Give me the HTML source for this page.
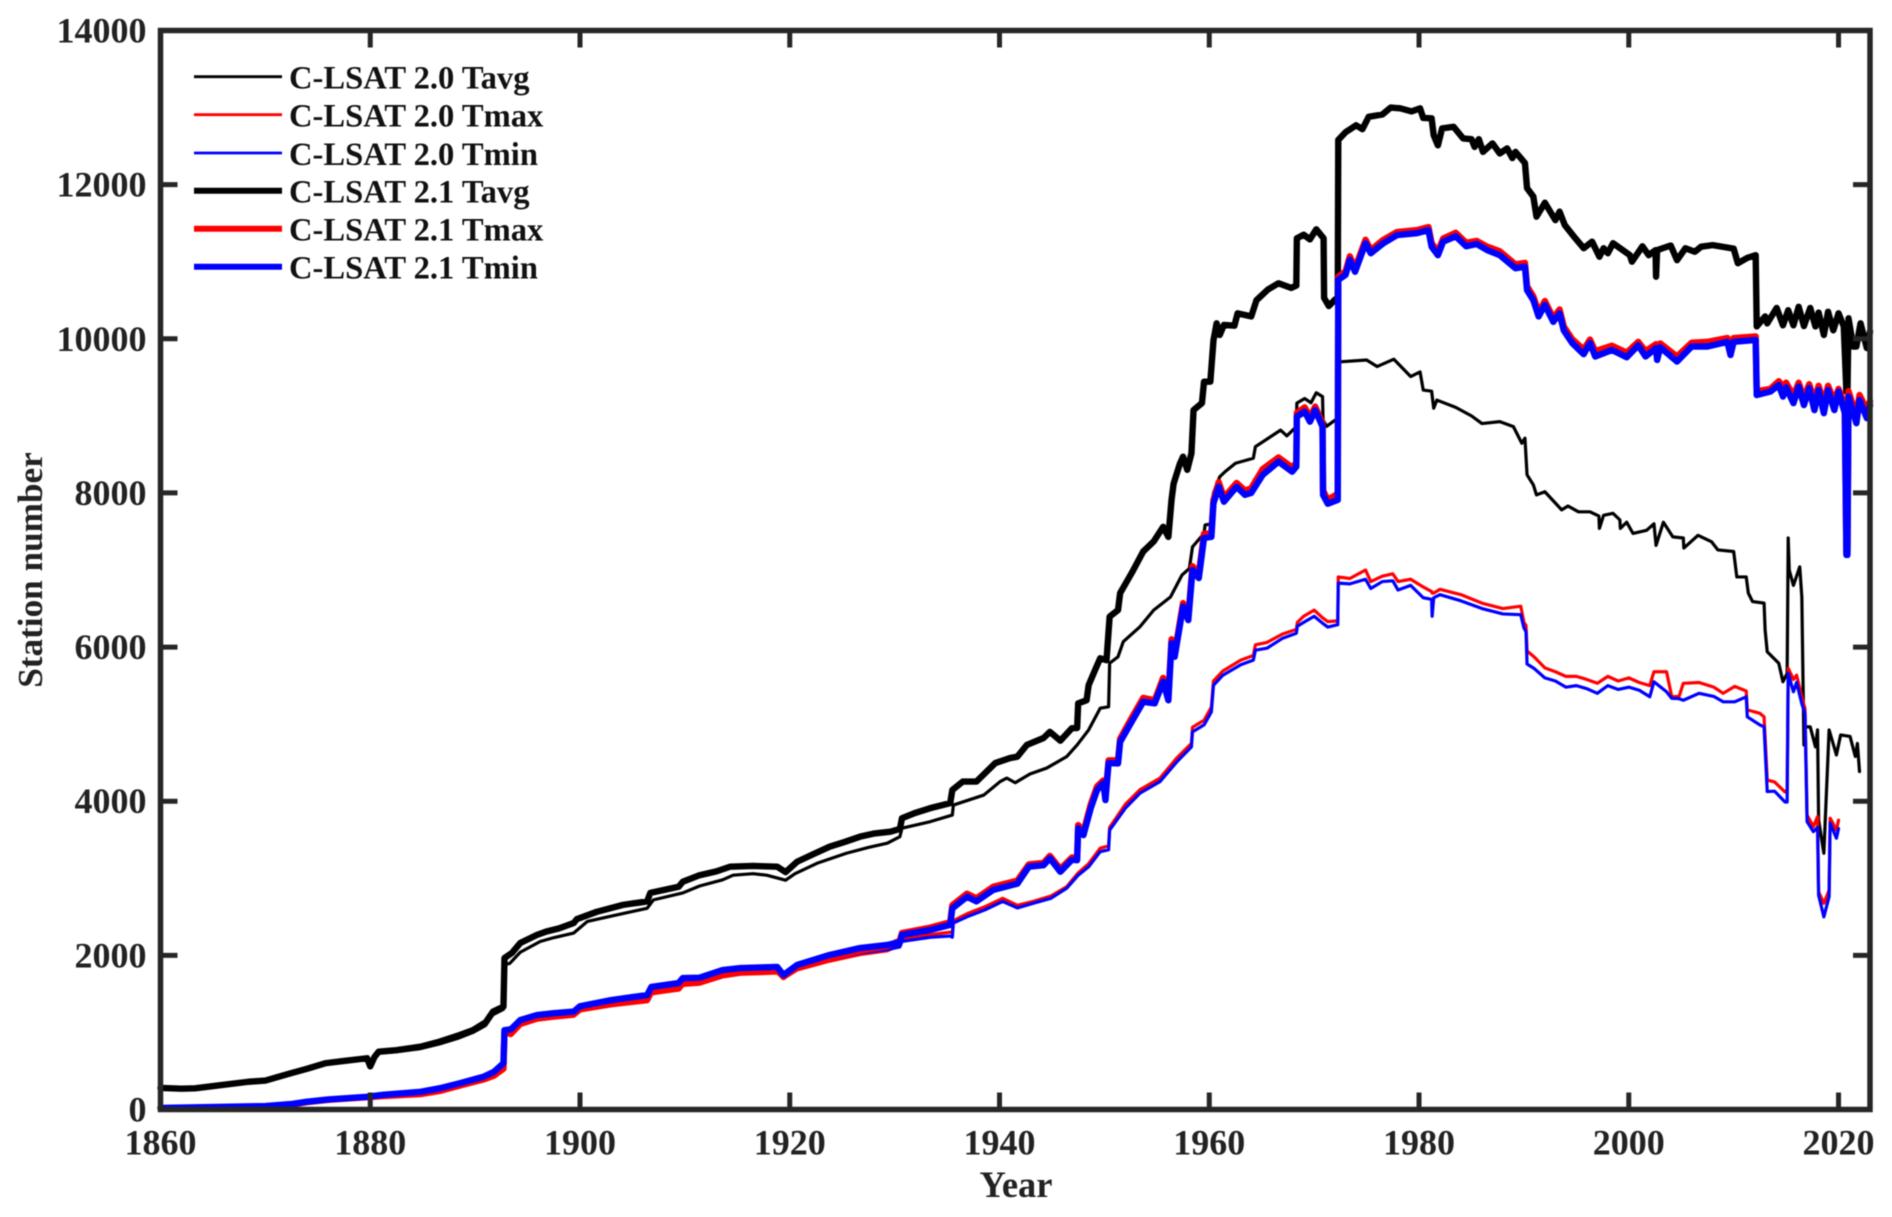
<!DOCTYPE html>
<html lang="en">
<head>
<meta charset="utf-8">
<title>C-LSAT station number</title>
<style>
html,body{margin:0;padding:0;background:#fff;width:1892px;height:1217px;overflow:hidden}
svg{display:block;filter:blur(0.45px)}
text{font-family:"Liberation Serif",serif;font-weight:bold}
</style>
</head>
<body>
<svg id="chart" xmlns="http://www.w3.org/2000/svg" width="1892" height="1217" viewBox="0 0 1892 1217">
  <rect x="0" y="0" width="1892" height="1217" fill="#fff"/>
  <g id="series-layer"></g>
  <rect x="160.5" y="30.5" width="1709.5" height="1079" fill="none" stroke="#262626" stroke-width="5.5"/>
  <g id="axis-layer"></g>
  <text x="1016" y="1197" font-size="36.5" text-anchor="middle" fill="#222">Year</text>
  <text transform="translate(42 570) rotate(-90)" font-size="35.2" text-anchor="middle" fill="#222">Station number</text>
  <g>
    <g>
      <line x1="194" x2="282" y1="76.7" y2="76.7" stroke="#000" stroke-width="2.8"/>
      <text x="289" y="88.7" font-size="32.6" fill="#111">C-LSAT 2.0 Tavg</text>
    </g>
    <g>
      <line x1="194" x2="282" y1="114.7" y2="114.7" stroke="#f00" stroke-width="2.8"/>
      <text x="289" y="126.7" font-size="32.6" fill="#111">C-LSAT 2.0 Tmax</text>
    </g>
    <g>
      <line x1="194" x2="282" y1="153" y2="153" stroke="#00f" stroke-width="2.8"/>
      <text x="289" y="165" font-size="32.6" fill="#111">C-LSAT 2.0 Tmin</text>
    </g>
    <g>
      <line x1="194" x2="282" y1="190.7" y2="190.7" stroke="#000" stroke-width="6"/>
      <text x="289" y="202.7" font-size="32.6" fill="#111">C-LSAT 2.1 Tavg</text>
    </g>
    <g>
      <line x1="194" x2="282" y1="228.7" y2="228.7" stroke="#f00" stroke-width="6"/>
      <text x="289" y="240.7" font-size="32.6" fill="#111">C-LSAT 2.1 Tmax</text>
    </g>
    <g>
      <line x1="194" x2="282" y1="266.7" y2="266.7" stroke="#00f" stroke-width="6"/>
      <text x="289" y="278.7" font-size="32.6" fill="#111">C-LSAT 2.1 Tmin</text>
    </g>
  </g>
</svg>
<script>
const xTickLabels = [1860,1880,1900,1920,1940,1960,1980,2000,2020];
const yTickLabels = [0,2000,4000,6000,8000,10000,12000,14000];

const yearsTavg20 = [
1860,1863.3,1866,1868.4,1870,1872.4,1874,1875.7,1877.5,1879.7,
1880,1880.4,1880.8,1882.5,1884.8,1886.6,1888.5,1889.8,1891,1891.7,
1892.7,1892.8,1893.3,1894.3,1896.2,1897.5,1899.4,1900.7,1903,1906.4,
1907,1909.8,1911.4,1913.6,1914.6,1916.5,1917.8,1919.6,1920.5,1922.6,
1925.4,1927.5,1929.3,1930.5,1930.7,1933.4,1935.5,1935.6,1938.5,1940.06,
1940.7,1941.5,1942.9,1944.5,1946.4,1947.4,1948.5,1949.6,1950.4,1950.5,
1951.3,1951.8,1953.4,1954.7,1956.3,1957.4,1958.1,1958.4,1959.5,1959.6,
1960.3,1960.4,1961,1961.5,1962.5,1964.2,1964.4,1966.8,1967.4,1968.3,
1968.35,1969.1,1969.7,1970.2,1970.8,1970.85,1971.2,1972,1972.25,1972.3,
1975,1976,1977.6,1979.2,1980.1,1980.4,1981.2,1981.4,1981.7,1983.5,
1985,1986,1987.7,1989,1989.8,1990.1,1990.3,1990.9,1991.2,1992,
1993.6,1994.2,1995.2,1996.3,1997.15,1997.2,1997.6,1998.5,1999.15,1999.2,
1999.8,2000.4,2001.7,2002.4,2002.6,2003.3,2004.2,2005.2,2005.25,2006.6,
2007.9,2008.5,2010,2010.3,2011.2,2011.4,2011.8,2012.9,2013,2013.2,
2014.3,2014.7,2015.1,2015.2,2015.3,2015.7,2016.3,2016.5,2016.7,2016.8,
2017.3,2017.8,2018,2018.1,2018.6,2019.1,2019.8,2020.2,2021.1,2021.6,
2021.8,2022];
const valuesTavg20 = [
275,270,310,350,365,460,520,585,620,650,
560,665,730,750,790,850,930,1000,1090,1230,
1300,1880,1895,2040,2180,2230,2290,2440,2510,2610,
2720,2810,2900,2980,3040,3060,3040,2975,3060,3195,
3325,3400,3455,3540,3650,3735,3820,3950,4080,4255,
4300,4240,4353,4430,4578,4730,4925,5207,5225,5790,
5875,6070,6265,6480,6650,6935,7020,7300,7475,7585,
7600,8000,8210,8275,8385,8450,8600,8815,8740,8860,
9165,9225,9170,9300,9250,8945,8865,8945,8950,9700,
9725,9640,9735,9510,9570,9335,9320,9100,9205,9110,
9000,8900,8925,8860,8645,8710,8235,8105,7975,8015,
7780,7830,7755,7755,7700,7540,7710,7735,7650,7540,
7620,7475,7515,7600,7320,7620,7430,7415,7285,7450,
7365,7260,7240,6910,6910,6700,6590,6570,6220,5940,
5790,5550,5660,7415,7000,6800,7040,6650,4730,4965,
4965,4705,4925,3755,3325,4925,4600,4860,4840,4580,
4750,4385];

const years20Temp = [
1860,1866,1870,1872.4,1873.9,1876,1879.7,1881.2,1884.8,1886.6,
1888.5,1890.8,1891.8,1892.7,1892.8,1893.4,1894.3,1895.9,1897.5,1899.4,
1900,1903,1906.4,1906.8,1909.4,1909.8,1911.4,1913.6,1915.3,1918.8,
1919.4,1920.7,1923.8,1926.7,1929.3,1930.5,1930.7,1933.4,1935.3,1935.5,
1935.6,1936.9,1938.6,1940.3,1941.7,1943.2,1944.9,1946.4,1947.5,1948.5,
1949.6,1950.4,1950.5,1952,1953.4,1955.3,1956.9,1958.3,1958.4,1959.5,
1960.2,1960.4,1961.3,1963,1964.2,1964.4,1965.5,1967,1968.3,1968.4,
1969,1970,1970.8,1971.3,1972.25,1972.3,1973.4,1974.9,1975.4,1976.5,
1977.5,1978,1979.2,1980.4,1981.2,1981.25,1981.4,1982,1984,1986,
1988,1989.7,1990,1990.2,1990.3,1991,1992,1993,1994,1995,
1996,1997,1998,1999,2000,2001,2002,2002.4,2003.6,2004.1,
2004.8,2005.2,2006.7,2008.1,2009,2010.1,2011.2,2011.3,2012.5,2012.9,
2013.2,2013.9,2014.9,2015.1,2015.2,2015.7,2016,2016.5,2016.8,2017,
2017.6,2018,2018.1,2018.6,2019.1,2019.2,2019.8,2020];
const valuesTmax20 = [
12,26,35,55,85,120,150,172,205,250,
305,380,440,530,980,990,1095,1160,1185,1210,
1280,1345,1400,1500,1550,1610,1625,1720,1755,1770,
1700,1810,1925,2010,2060,2130,2210,2270,2300,2300,
2450,2540,2630,2740,2650,2700,2770,2890,3070,3190,
3390,3420,3660,3960,4150,4300,4560,4750,4960,5050,
5220,5560,5690,5830,5890,6030,6060,6170,6230,6320,
6400,6480,6380,6330,6340,6910,6890,7000,6850,6920,
6950,6850,6880,6780,6720,6700,6700,6750,6680,6570,
6500,6530,6320,6280,5950,5870,5730,5680,5620,5620,
5580,5530,5620,5560,5600,5540,5500,5680,5680,5355,
5360,5530,5540,5480,5400,5490,5430,5185,5140,5095,
4275,4250,4120,4145,5725,5580,5635,5355,5200,3820,
3670,3800,2825,2675,2845,3780,3625,3755];
const valuesTmin20 = [
15,30,40,60,90,125,155,180,220,265,
325,405,470,570,1000,1010,1120,1190,1215,1235,
1300,1370,1430,1530,1580,1640,1650,1750,1780,1795,
1720,1830,1950,2030,2075,2110,2180,2235,2250,2235,
2420,2500,2590,2700,2615,2675,2740,2870,3040,3150,
3345,3370,3625,3910,4105,4255,4510,4705,4900,4990,
5160,5505,5635,5770,5830,5960,5985,6115,6180,6270,
6320,6400,6310,6260,6290,6830,6820,6880,6760,6850,
6860,6740,6800,6640,6620,6400,6640,6680,6600,6500,
6430,6420,6250,6200,5780,5720,5600,5560,5480,5500,
5460,5400,5500,5450,5480,5440,5355,5550,5420,5335,
5330,5310,5400,5360,5290,5290,5355,5095,4990,4965,
4125,4130,3990,3990,5660,5420,5540,5265,5140,3735,
3605,3660,2780,2500,2760,3715,3520,3645];

const yearsTavg21 = [
1860,1862,1863.3,1866,1868.4,1870,1872.4,1874,1875.7,1877.5,
1879.7,1880,1880.4,1880.8,1882.5,1884.8,1886.6,1888.5,1889.8,1891,
1891.7,1892.7,1892.8,1893.5,1894.3,1895.9,1896.8,1898,1899.4,1899.7,
1901.6,1904.1,1906.4,1906.7,1909.4,1909.8,1911.4,1913,1914.3,1916.5,
1918.8,1919.6,1920.7,1922.2,1923.8,1925.2,1926.7,1928,1929.6,1930.5,
1930.7,1932,1933.4,1935.3,1935.5,1936.5,1937.8,1939.6,1941,1941.7,
1942.6,1944.2,1944.8,1945.8,1946.9,1947.4,1947.5,1948.3,1948.5,1949.1,
1949.6,1950.2,1950.5,1951.3,1951.5,1952.6,1953.7,1954.7,1955.6,1956.1,
1956.4,1956.6,1957.2,1957.5,1957.9,1958.3,1958.5,1959.3,1959.5,1960.1,
1960.4,1960.7,1961,1961.4,1962.4,1962.7,1964,1964.5,1965.6,1966.6,
1967.8,1968.3,1968.35,1969,1969.6,1970.2,1970.9,1970.95,1971.4,1972,
1972.25,1972.3,1973,1974,1974.6,1975.2,1976.5,1977.3,1978.2,1979.3,
1980.1,1980.4,1981.2,1981.4,1981.8,1982.2,1983.3,1984.2,1985,1985.3,
1985.7,1986.1,1987,1987.7,1988.4,1988.9,1989.2,1990.1,1990.3,1990.9,
1991.2,1992,1993,1993.4,1993.9,1994.9,1995.7,1996.5,1997.2,1997.6,
1998,1998.5,2000.1,2000.3,2001.3,2001.9,2002.55,2002.6,2002.7,2004,
2004.6,2005.4,2006.3,2006.9,2008,2010,2010.4,2011.3,2012.1,2012.2,
2013,2013.2,2014.1,2014.7,2015.2,2015.7,2016.2,2016.7,2017.3,2017.8,
2018.1,2018.6,2019,2019.5,2020,2020.5,2020.75,2020.85,2020.95,2021.4,
2021.7,2022.1,2022.7,2023];
const valuesTavg21 = [
280,270,275,320,360,375,470,530,600,630,
665,560,680,750,770,815,880,965,1030,1130,
1270,1335,1965,2030,2160,2265,2310,2350,2420,2470,
2565,2655,2700,2810,2890,2955,3040,3090,3150,3160,
3150,3080,3215,3310,3410,3470,3540,3580,3605,3640,
3780,3850,3910,3975,4145,4255,4255,4495,4560,4578,
4730,4820,4900,4785,4947,4950,5270,5310,5507,5700,
5855,5830,6395,6480,6700,6960,7240,7370,7560,7430,
7910,8120,8380,8470,8300,8514,9075,9165,9443,9443,
9980,10200,10050,10180,10170,10330,10290,10500,10640,10720,
10660,10690,11304,11350,11290,11420,11304,10530,10425,10510,
10510,12580,12680,12770,12720,12880,12910,13000,12990,12950,
12990,12865,12860,12640,12510,12730,12750,12600,12590,12490,
12590,12425,12535,12405,12470,12345,12425,12280,11955,11845,
11585,11765,11540,11650,11475,11305,11175,11260,11065,11175,
11110,11240,11085,11000,11200,11085,11150,10805,11150,11210,
11020,11175,11130,11195,11215,11170,10980,11050,11085,10160,
10290,10200,10400,10175,10370,10175,10415,10165,10400,10160,
10340,10050,10350,10110,10330,10160,9315,9315,10265,9900,
9900,10200,9880,10095];

const years21Temp = [
1860,1866,1870,1872.4,1873.9,1876,1879.7,1881.2,1884.8,1886.6,
1888.5,1890.8,1891.8,1892.7,1892.8,1893.4,1894.3,1895.9,1897.5,1899.4,
1900,1903,1906.4,1906.8,1909.4,1909.8,1911.4,1913.6,1915.3,1918.8,
1919.4,1920.7,1923.8,1926.7,1929.3,1930.5,1930.7,1933.4,1935.3,1935.5,
1936.9,1937.8,1939.4,1941.7,1942.8,1944.2,1944.8,1945.8,1946.9,1947.4,
1947.5,1948,1948.7,1949.3,1949.9,1950.1,1950.4,1951.3,1951.5,1952.6,
1953.7,1954.8,1955.6,1956.1,1956.4,1956.7,1957.5,1958,1958.4,1959,
1959.5,1960.2,1960.4,1960.9,1961.4,1962.6,1963.4,1964,1965.1,1966.6,
1967.9,1968.3,1968.35,1969.1,1969.6,1970.1,1970.8,1970.85,1971.3,1972.25,
1972.3,1973,1973.4,1973.9,1974.9,1975.4,1976.6,1977.9,1979.8,1980.9,
1981.2,1981.8,1982.3,1983.5,1984.5,1985.5,1986.5,1987.7,1989.2,1990.1,
1990.3,1990.9,1991.4,1992,1992.8,1993.4,1993.8,1994.6,1995.7,1996.3,
1996.8,1998.4,1999.8,2000.9,2001.6,2002.6,2002.7,2003,2004.6,2006,
2007.5,2009.4,2009.7,2010,2012.1,2012.2,2013.5,2014.3,2014.7,2015,
2015.7,2016.2,2016.7,2017.2,2017.7,2018.1,2018.6,2019,2019.6,2020,
2020.6,2020.75,2020.85,2020.95,2021.7,2022,2022.7,2023];
const valuesTmax21 = [
15,30,40,60,95,125,160,175,200,240,
310,390,440,530,1010,980,1110,1180,1210,1235,
1300,1370,1420,1530,1570,1640,1660,1750,1790,1810,
1720,1850,1970,2060,2120,2190,2290,2360,2430,2650,
2800,2740,2890,2970,3180,3200,3290,3120,3270,3265,
3690,3600,3960,4190,4270,4060,4530,4530,4810,5080,
5340,5310,5600,5360,6100,5920,6570,6400,7050,6950,
7470,7480,7910,8140,7940,8130,8030,8060,8310,8460,
8330,8390,9040,9110,8980,9120,8900,8030,7910,7990,
10805,10875,11070,10915,11285,11150,11285,11385,11410,11450,
11240,11130,11300,11375,11245,11270,11195,11135,10965,10985,
10680,10550,10340,10490,10270,10380,10160,9995,9860,9990,
9840,9910,9820,9960,9840,9930,9860,9940,9770,9950,
9960,10010,9950,10010,10030,9320,9350,9450,9380,9430,
9260,9430,9230,9410,9200,9390,9160,9390,9190,9350,
9140,7250,7250,9320,9000,9270,9080,9190];
const valuesTmin21 = [
20,35,45,70,100,130,165,190,230,275,
340,425,490,600,1030,1040,1160,1225,1250,1270,
1340,1420,1485,1590,1640,1705,1710,1810,1835,1850,
1745,1875,2005,2095,2135,2170,2265,2330,2395,2610,
2760,2700,2850,2930,3150,3170,3260,3085,3240,3235,
3650,3560,3910,4145,4235,4015,4495,4490,4770,5030,
5290,5270,5550,5310,6050,5875,6525,6350,7000,6895,
7415,7430,7866,8080,7886,8080,7975,8000,8235,8405,
8275,8340,8990,9055,8925,9075,8860,7975,7860,7910,
10765,10830,11025,10870,11240,11110,11240,11345,11370,11410,
11195,11085,11260,11330,11200,11230,11150,11085,10915,10935,
10630,10500,10290,10440,10220,10330,10110,9945,9800,9945,
9770,9855,9760,9915,9770,9880,9725,9890,9705,9900,
9900,9960,9790,9960,9985,9270,9315,9400,9250,9370,
9165,9380,9140,9360,9075,9335,9035,9335,9075,9315,
9035,7195,7195,9250,8905,9205,8970,9140];

const NS = 'http://www.w3.org/2000/svg';
const plotLeft = 160.5, plotRight = 1870, plotTop = 30.5, plotBottom = 1109.5;
const xMin = 1860, xMax = 2023, yMin = 0, yMax = 14000;
function xScale(year){ return plotLeft + (year - xMin) * (plotRight - plotLeft) / (xMax - xMin); }
function yScale(value){ return plotBottom - (value - yMin) * (plotBottom - plotTop) / (yMax - yMin); }

function drawSeries(name, years, values, color, width){
  const path = document.createElementNS(NS, 'path');
  const n = Math.min(years.length, values.length);
  let d = '';
  for (let i = 0; i < n; i++) {
    d += (i ? 'L' : 'M') + xScale(years[i]).toFixed(2) + ' ' + yScale(values[i]).toFixed(2);
  }
  path.setAttribute('d', d);
  path.setAttribute('fill', 'none');
  path.setAttribute('stroke', color);
  path.setAttribute('stroke-width', width);
  path.setAttribute('stroke-linejoin', 'round');
  path.setAttribute('stroke-linecap', 'round');
  
  
  document.getElementById('series-layer').appendChild(path);
}
drawSeries('line-2-0-tavg', yearsTavg20, valuesTavg20, '#000', 3.2);
drawSeries('line-2-0-tmax', years20Temp, valuesTmax20, '#f00', 3.2);
drawSeries('line-2-0-tmin', years20Temp, valuesTmin20, '#00f', 3.2);
drawSeries('line-2-1-tavg', yearsTavg21, valuesTavg21, '#000', 6.4);
drawSeries('line-2-1-tmax', years21Temp, valuesTmax21, '#f00', 6.4);
drawSeries('line-2-1-tmin', years21Temp, valuesTmin21, '#00f', 6.4);

const axisLayer = document.getElementById('axis-layer');
function addTick(x1, y1, x2, y2){
  const t = document.createElementNS(NS, 'line');
  t.setAttribute('x1', x1);
  t.setAttribute('y1', y1);
  t.setAttribute('x2', x2);
  t.setAttribute('y2', y2);
  t.setAttribute('stroke', '#262626');
  t.setAttribute('stroke-width', 5);
  
  
  axisLayer.appendChild(t);
}
function addLabel(x, y, anchor, str, name){
  const t = document.createElementNS(NS, 'text');
  t.setAttribute('x', x);
  t.setAttribute('y', y);
  t.setAttribute('text-anchor', anchor);
  t.setAttribute('font-size', 36);
  t.setAttribute('fill', '#222');
  
  
  t.textContent = str;
  axisLayer.appendChild(t);
}
const tickLen = 17;
xTickLabels.forEach(function(year){
  const x = xScale(year);
  addTick(x, plotBottom, x, plotBottom - tickLen);
  addTick(x, plotTop, x, plotTop + tickLen);
  addLabel(x, 1154.5, 'middle', String(year), 'x-tick-label');
});
yTickLabels.forEach(function(value){
  const y = yScale(value);
  addTick(plotLeft, y, plotLeft + tickLen, y);
  addTick(plotRight, y, plotRight - tickLen, y);
  addLabel(146.5, y + 12, 'end', String(value), 'y-tick-label');
});
</script>
</body>
</html>
